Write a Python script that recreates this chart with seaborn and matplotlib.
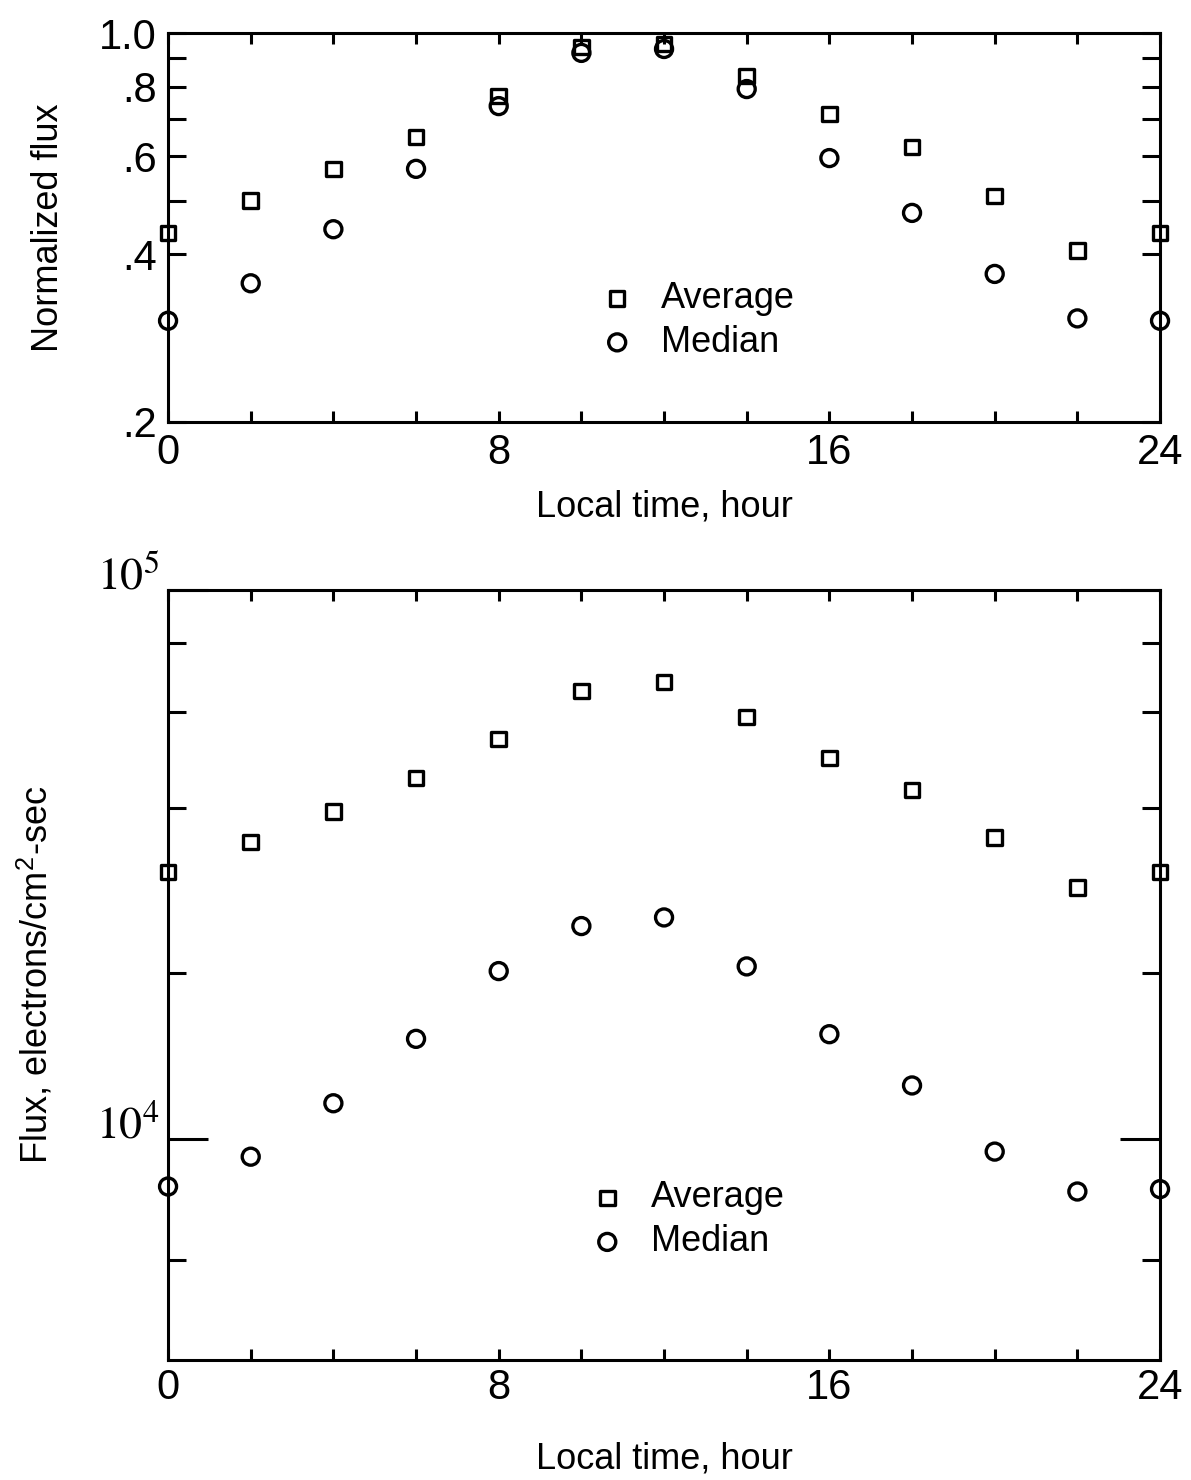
import numpy as np
import pandas as pd
import seaborn as sns
import matplotlib
matplotlib.use("Agg")
import matplotlib.pyplot as plt
from matplotlib.ticker import FixedLocator, FixedFormatter, NullFormatter

# ---------------- data ----------------
hours = [0, 2, 4, 6, 8, 10, 12, 14, 16, 18, 20, 22, 24]
norm_average = [0.437, 0.50, 0.570, 0.650, 0.770, 0.944, 0.955, 0.837, 0.715, 0.624, 0.509, 0.407, 0.437]
norm_median = [0.304, 0.355, 0.444, 0.570, 0.739, 0.921, 0.936, 0.793, 0.596, 0.475, 0.369, 0.307, 0.304]
flux_average = [30600, 34700, 39500, 45400, 53500, 65400, 68000, 58700, 49400, 43200, 35400, 28700, 30600]
flux_median = [8180, 9270, 11600, 15200, 20200, 24400, 25300, 20600, 15500, 12500, 9470, 8010, 8090]

top_major = [0.2, 0.4, 0.6, 0.8, 1.0]
top_major_labels = [".2", ".4", ".6", ".8", "1.0"]
top_minor = [0.5, 0.7, 0.9]
bot_major = [1e4, 1e5]
bot_major_labels = [r"$10^4$", r"$10^5$"]
bot_minor = [6e3, 2e4, 4e4, 6e4, 8e4]
x_major = [0, 8, 16, 24]
x_minor = [2, 4, 6, 10, 12, 14, 18, 20, 22]

# ---------------- style ----------------
sns.set_theme(style="ticks")
plt.rcParams["font.family"] = ["Liberation Sans Narrow", "Liberation Sans", "DejaVu Sans"]
plt.rcParams["mathtext.fontset"] = "stix"
plt.rcParams["axes.linewidth"] = 2.2
plt.rcParams["text.color"] = "black"
plt.rcParams["axes.labelcolor"] = "black"
plt.rcParams["xtick.color"] = "black"
plt.rcParams["ytick.color"] = "black"

fig = plt.figure(figsize=(11.91, 14.80), dpi=100)
ax1 = fig.add_axes([0.1411, 0.7149, 0.8329, 0.2628])
ax2 = fig.add_axes([0.1411, 0.0811, 0.8329, 0.5203])

df_top = pd.DataFrame({"hour": hours * 2,
                       "value": norm_average + norm_median,
                       "kind": ["Average"] * len(hours) + ["Median"] * len(hours)})
df_bot = pd.DataFrame({"hour": hours * 2,
                       "value": flux_average + flux_median,
                       "kind": ["Average"] * len(hours) + ["Median"] * len(hours)})

for ax, df in [(ax1, df_top), (ax2, df_bot)]:
    sub = df[df.kind == "Average"]
    sns.scatterplot(data=sub, x="hour", y="value", marker="s", s=110,
                    facecolor="none", edgecolor="black", linewidth=2.4,
                    ax=ax, legend=False, label="Average", clip_on=False, zorder=5)
    sub = df[df.kind == "Median"]
    sns.scatterplot(data=sub, x="hour", y="value", marker="o", s=150,
                    facecolor="none", edgecolor="black", linewidth=2.4,
                    ax=ax, legend=False, label="Median", clip_on=False, zorder=5)
    ax.set_yscale("log")
    ax.set_xlim(0, 24)
    ax.xaxis.set_major_locator(FixedLocator(x_major))
    ax.xaxis.set_minor_locator(FixedLocator(x_minor))
    ax.tick_params(axis="both", which="both", direction="in", top=True, right=True,
                   color="black", width=2.2, labelcolor="black")
    ax.tick_params(axis="x", which="both", length=8)
    ax.tick_params(axis="x", which="major", labelsize=30)
    for sp in ax.spines.values():
        sp.set_color("black")
        sp.set_linewidth(2.2)
    leg = ax.legend(frameon=False, fontsize=26, handletextpad=0.7, labelspacing=0.25,
                    handlelength=1.0, borderaxespad=0)
    for h in leg.legend_handles:
        h.set_facecolor("none")
        h.set_edgecolor("black")
    for t in leg.get_texts():
        t.set_color("black")

# top panel
ax1.set_ylim(0.2, 1.0)
ax1.yaxis.set_major_locator(FixedLocator(top_major))
ax1.yaxis.set_major_formatter(FixedFormatter(top_major_labels))
ax1.yaxis.set_minor_locator(FixedLocator(top_minor))
ax1.yaxis.set_minor_formatter(NullFormatter())
ax1.tick_params(axis="y", which="both", length=13, labelsize=30, pad=8)
ax1.tick_params(axis="x", which="major", pad=8)
ax1.set_xlabel("Local time, hour", fontsize=26, labelpad=12)
ax1.set_ylabel("Normalized flux", fontsize=26, labelpad=24)
ax1.get_legend().set_bbox_to_anchor((0.42, 0.40))
ax1.get_legend().set_loc("upper left")

# bottom panel
ax2.set_ylim(3950, 1e5)
ax2.yaxis.set_major_locator(FixedLocator(bot_major))
ax2.yaxis.set_major_formatter(FixedFormatter(bot_major_labels))
ax2.yaxis.set_minor_locator(FixedLocator(bot_minor))
ax2.yaxis.set_minor_formatter(NullFormatter())
ax2.tick_params(axis="y", which="major", length=29, labelsize=33, pad=6)
ax2.tick_params(axis="y", which="minor", length=13)
for lbl in ax2.get_yticklabels():
    lbl.set_verticalalignment("baseline")
ax2.tick_params(axis="x", which="major", pad=6)
ax2.set_xlabel("Local time, hour", fontsize=26, labelpad=24)
ax2.set_ylabel(r"Flux, electrons/cm$^\mathregular{2}$-sec", fontsize=26, labelpad=30)
ax2.get_legend().set_bbox_to_anchor((0.41, 0.252))
ax2.get_legend().set_loc("upper left")

fig.savefig("out.png", dpi=100, facecolor="white")
